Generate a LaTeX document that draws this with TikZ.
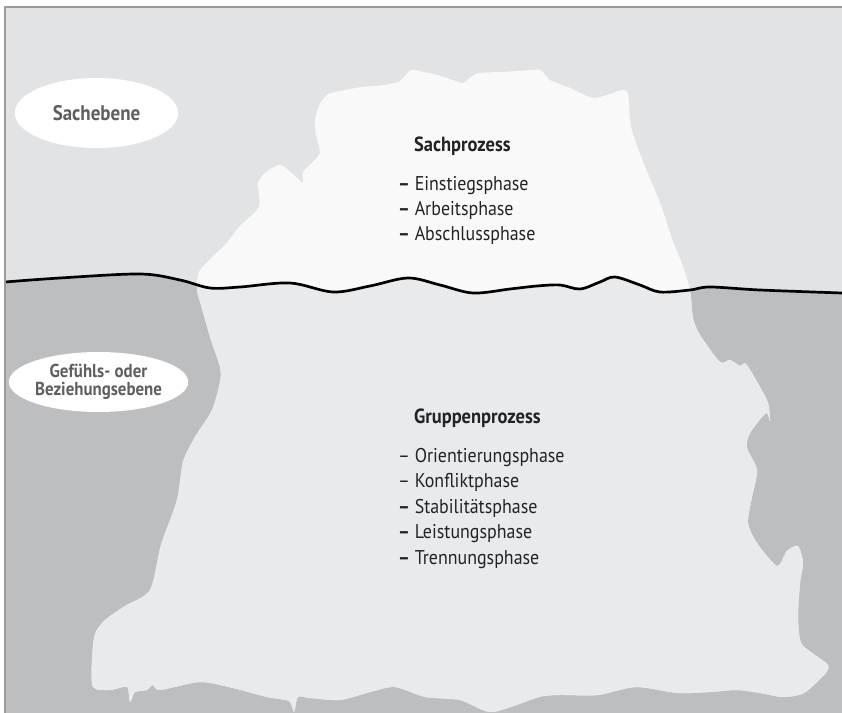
\documentclass[tikz,border=0pt]{standalone}
\usepackage{fontspec}
\setmainfont{PT Sans}[FakeStretch=0.9]
\usetikzlibrary{shapes.geometric}

\definecolor{skygray}{RGB}{226,227,229}
\definecolor{watergray}{RGB}{189,190,192}
\definecolor{icetop}{RGB}{249,249,249}
\definecolor{icebottom}{RGB}{233,234,236}
\definecolor{framegray}{RGB}{155,155,155}
\definecolor{labelgray}{RGB}{95,95,95}
\definecolor{textdark}{RGB}{35,35,35}

\tikzset{
  level/.style={ellipse, fill=white, inner sep=0pt, align=center,
    font=\bfseries\fontsize{16}{18}\selectfont, text=labelgray},
  heading/.style={anchor=base west, text=textdark,
    font=\bfseries\fontsize{17.5}{20}\selectfont},
  phase/.style={anchor=base west, text=textdark,
    font=\fontsize{17}{20}\selectfont},
}

% outline of the whole iceberg, in pixel units
\def\iceberg{plot[smooth cycle, tension=0.45] coordinates {
  (197,290) (199,272) (212,257) (224,246) (240,226) (259,207) (258,183)
  (266,172) (280,165) (293,174) (303,183) (303,172) (313,162) (320,152)
  (316,135) (315,119) (320,104) (328,94) (345,90) (362,87) (385,85)
  (400,81) (411,70) (423,72) (434,74) (450,79) (463,83) (471,77)
  (479,73) (500,72) (520,71) (540,70) (550,80) (570,88) (593,98)
  (610,94) (627,91) (631,127) (644,164) (661,205) (671,236) (682,264)
  (690,290) (693,318) (700,335) (720,362) (730,360) (740,366) (746,364)
  (760,387) (768,403) (770,421) (766,413) (750,433) (747,448) (757,470)
  (752,497) (748,523) (757,543) (777,566) (787,551) (798,546) (803,563)
  (800,583) (798,617) (801,643) (815,655) (828,665) (825,674) (804,693)
  (783,697) (760,693) (737,690) (710,692) (678,693) (636,687) (598,695)
  (560,695) (539,697) (492,712) (460,700) (425,697) (395,687) (370,692)
  (340,700) (310,698) (298,697) (294,712) (289,701) (267,697) (233,688)
  (200,682) (160,690) (153,685) (147,690) (135,692) (130,702) (127,687)
  (110,690) (93,687) (92,660) (95,634) (105,620) (125,606) (150,590)
  (161,545) (177,500) (183,462) (195,437) (212,410) (220,382) (220,367)
  (210,337) (201,305)}}

% surface of the water, left to right
\def\waterline{plot[smooth, tension=0.55] coordinates {
  (5,282) (60,278) (140,274) (180,280) (210,288) (240,287) (290,283)
  (333,292) (370,286) (408,278) (440,285) (473,293) (510,289) (537,286)
  (560,285) (580,289) (600,282) (615,277) (640,285) (660,292) (690,290)
  (710,287) (760,290) (842,293)}}

\begin{document}
\begin{tikzpicture}[x=0.03cm, y=-0.03cm]
\useasboundingbox (0,0) rectangle (842,713);
% sky and sea
\fill[skygray] (5,7) rectangle (842,713);
\fill[watergray] \waterline -- (842,713) -- (5,713) -- cycle;
% iceberg: tip above the surface, body below it
\fill[icetop] \iceberg;
\begin{scope}
  \clip \waterline -- (842,713) -- (5,713) -- cycle;
  \fill[icebottom] \iceberg;
\end{scope}
\draw[black, line width=2.3pt] \waterline;
% frame
\draw[framegray, line width=1.3pt] (5,713) -- (5,7) -- (842,7);

% the two levels
\node[level, minimum width=4.9cm, minimum height=2.1cm,
  font=\bfseries\fontsize{18}{20}\selectfont] (sachebene)
  at (96.5,113) {Sachebene};
\node[level, minimum width=4.9cm, minimum height=1.8cm] (beziehungsebene)
  at (98.5,382) {Gefühls- oder\\[-3pt]Beziehungsebene};

% content of the tip
\node[heading] (sachprozess) at (410,152) {Sachprozess};
\foreach \label [count=\i] in {Einstiegsphase, Arbeitsphase, Abschlussphase}
  \node[phase] (sach\i) at (394,{166+25*\i}) {\textbf{–} \label};

% content of the body
\node[heading] (gruppenprozess) at (410,424) {Gruppenprozess};
\node[phase] (gruppe1) at (394,462) {– Orientierungsphase};
\node[phase] (gruppe2) at (394,487.5) {– Konfliktphase};
\foreach \label [count=\i from 3] in {Stabilitätsphase, Leistungsphase, Trennungsphase}
  \node[phase] (gruppe\i) at (394,{436.5+25.5*\i}) {\textbf{–} \label};
\end{tikzpicture}
\end{document}
